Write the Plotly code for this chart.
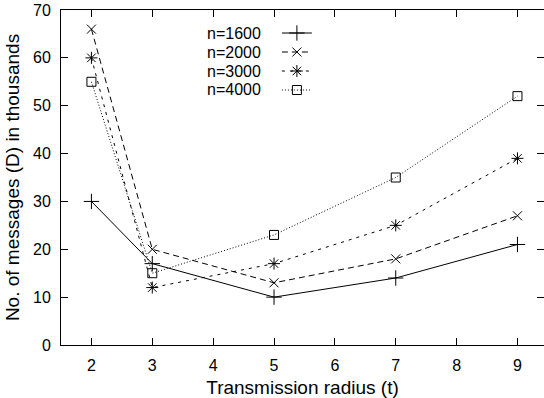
import plotly.graph_objects as go

radius = [2, 3, 5, 7, 9]
labels = ["n=1600", "n=2000", "n=3000", "n=4000"]
n1600 = [30, 17, 10, 14, 21]
n2000 = [66, 20, 13, 18, 27]
n3000 = [60, 12, 17, 25, 39]
n4000 = [55, 15, 23, 35, 52]
series = [n1600, n2000, n3000, n4000]

symbols = ["cross-thin-open", "x-thin-open", "asterisk-open", "square-open"]
dashes = ["solid", "6px,4px", "3px,5px", "1px,2px"]
msizes = [11, 9, 10, 9]

fig = go.Figure()
for lab, vals, sym, dsh, ms in zip(labels, series, symbols, dashes, msizes):
    fig.add_trace(go.Scatter(
        x=radius, y=vals, mode="lines+markers", name="",
        line=dict(color="black", width=1, dash=dsh),
        marker=dict(symbol=sym, size=ms, color="black",
                    line=dict(color="black", width=1)),
        hovertemplate=lab + ": %{y}<extra></extra>",
    ))

# legend labels placed to the left of the legend samples (gnuplot style)
row_y = [0.9313, 0.8746, 0.8179, 0.7612]
for lab, yy in zip(labels, row_y):
    fig.add_annotation(text=lab, xref="paper", yref="paper", x=0.418, y=yy,
                       xanchor="right", yanchor="middle", showarrow=False,
                       font=dict(size=16, color="black"))

axis_common = dict(
    showline=True, linecolor="black", linewidth=1, mirror="ticks",
    ticks="inside", ticklen=7, tickcolor="black", tickwidth=1,
    showgrid=False, zeroline=False,
    tickfont=dict(size=16, color="black"),
)

fig.update_layout(
    width=544, height=398,
    margin=dict(l=61, r=0, t=10, b=53),
    paper_bgcolor="white", plot_bgcolor="white",
    font=dict(family="Liberation Sans, Arial, sans-serif", size=16, color="black"),
    showlegend=True,
    legend=dict(x=0.447, y=0.9746, xanchor="left", yanchor="top",
                bgcolor="rgba(0,0,0,0)", borderwidth=0,
                font=dict(size=10), itemwidth=30, tracegroupgap=0),
    xaxis=dict(range=[1.5, 9.436], tickvals=[2, 3, 4, 5, 6, 7, 8, 9],
               title=dict(text="Transmission radius (t)", standoff=8),
               ticklabelstandoff=6, **axis_common),
    yaxis=dict(range=[0, 70], tickvals=[0, 10, 20, 30, 40, 50, 60, 70],
               title=dict(text="No. of messages (D) in thousands", standoff=8),
               ticklabelstandoff=6, **axis_common),
)

fig.write_html("out.html")
